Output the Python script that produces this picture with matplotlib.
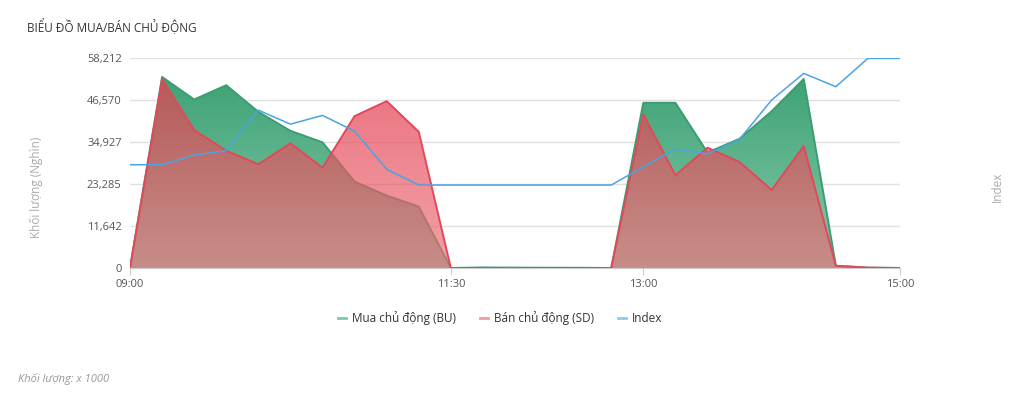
import matplotlib as mpl
import matplotlib.pyplot as plt
import matplotlib.ticker as ticker
import numpy as np
from matplotlib.colors import to_rgb

plt.rcParams['font.family'] = ['Open Sans', 'DejaVu Sans']

# 15-minute grid, 09:00 .. 15:00 (minutes since midnight)
TIMES = np.arange(9 * 60, 15 * 60 + 1, 15)

# active buy / sell volume (x1000)
BU = [0, 52960, 46710, 50670, 43290, 38030, 34830, 23940, 20070, 17030, 0,
      150, 100, 80, 60, 0,
      45800, 45800, 32000, 35830, 43460, 52410, 640, 100, 0]
SD = [0, 52400, 38230, 32510, 28750, 34550, 27810, 42100, 46240, 37760, 0,
      0, 0, 0, 0, 0,
      42550, 25690, 33350, 29370, 21630, 33790, 600, 100, 0]
INDEX = [1269.5, 1269.5, 1272.3, 1273.5, 1285.1, 1281.1, 1283.6, 1279.1, 1268.2, 1263.7, 1263.7,
         1263.7, 1263.7, 1263.7, 1263.7, 1263.7,
         1268.9, 1274.0, 1272.6, 1276.8, 1288.0, 1295.6, 1291.8, 1299.9, 1299.9]

Y_MAX = 58212
Y_TICKS = [0, 11642, 23285, 34927, 46570, 58212]
X_TICKS = [9 * 60, 11 * 60 + 30, 13 * 60, 15 * 60]
X_LABELS = ['09:00', '11:30', '13:00', '15:00']

GREEN = '#3a9e70'
RED = '#e2485a'
BLUE = '#4aa3e3'


def gradient_fill(ax, x, y, top_color, bottom_color, top_alpha, bottom_alpha, zorder):
    poly = ax.fill_between(x, 0, y, facecolor='none', edgecolor='none', zorder=zorder)
    t = np.array(to_rgb(top_color))
    b = np.array(to_rgb(bottom_color))
    frac = np.linspace(0, 1, 256)[:, None]  # 0 = bottom, 1 = top
    rgb = b + (t - b) * frac
    alpha = bottom_alpha + (top_alpha - bottom_alpha) * frac
    img = np.dstack([rgb[:, None, 0].repeat(2, 1), rgb[:, None, 1].repeat(2, 1),
                     rgb[:, None, 2].repeat(2, 1), alpha.repeat(2, 1)])
    im = ax.imshow(img, aspect='auto', origin='lower', zorder=zorder,
                   extent=[x.min(), x.max(), 0, Y_MAX], interpolation='bilinear')
    im.set_clip_path(poly.get_paths()[0], transform=ax.transData)


fig = plt.figure(figsize=(10.24, 3.96), dpi=100)
ax = fig.add_axes([130 / 1024, 1 - 268 / 396, 770 / 1024, 210 / 396])

x = TIMES.astype(float)
gradient_fill(ax, x, np.array(BU), '#389e70', '#86cbac', 1.0, 1.0, 2)
ax.plot(x, BU, color=GREEN, lw=1.4, zorder=3)
gradient_fill(ax, x, np.array(SD), '#e13c4e', '#ed6d76', 0.75, 0.65, 4)
ax.plot(x, SD, color=RED, lw=1.4, zorder=5)

ax.set_xlim(x.min(), x.max())
ax.set_ylim(0, Y_MAX)
ax.set_yticks(Y_TICKS)
ax.yaxis.set_major_formatter(ticker.FuncFormatter(lambda v, _p: f'{int(round(v)):,}'))
ax.set_xticks(X_TICKS)
ax.set_xticklabels(X_LABELS)
ax.tick_params(axis='y', length=0, pad=6, labelsize=8, labelcolor='#555555')
ax.tick_params(axis='x', length=5, width=0.8, color='#cccccc', pad=3, labelsize=8,
               labelcolor='#555555')
ax.grid(True, axis='y', color='#e0e0e0', lw=1, zorder=0)
ax.set_axisbelow(True)
for side in ['top', 'right', 'left']:
    ax.spines[side].set_visible(False)
ax.spines['bottom'].set_color('#cccccc')
ax.set_ylabel('Khối lượng (Nghìn)', fontsize=8.5, color='#aaaaaa')
ax.yaxis.set_label_coords(-87 / 770, 0.386)

ax2 = ax.twinx()
ax2.plot(x, INDEX, color=BLUE, lw=1.1, zorder=6)
ax2.set_ylim(1240, 1300)
ax2.set_yticks([])
for side in ax2.spines:
    ax2.spines[side].set_visible(False)
ax2.set_ylabel('Index', fontsize=8.5, color='#aaaaaa')
ax2.yaxis.set_label_coords(1 + 91 / 770, 0.386)

fig.text(27 / 1024, 1 - 27 / 396, 'BIỂU ĐỒ MUA/BÁN CHỦ ĐỘNG', fontsize=8.5, color='#333333',
         va='center', ha='left')

# legend
legend_items = [('Mua chủ động (BU)', '#7fc9a6'), ('Bán chủ động (SD)', '#f19ca3'),
                ('Index', '#8ccaf2')]
handles = [mpl.lines.Line2D([], [], color=c, lw=2) for _, c in legend_items]
fig.legend(handles, [t for t, _ in legend_items], loc='center',
           bbox_to_anchor=(500 / 1024, 1 - 318 / 396),
           ncol=3, frameon=False, fontsize=8.5, handlelength=0.7, handletextpad=0.5,
           columnspacing=2.0, labelcolor='#333333')

fig.text(18 / 1024, 1 - 379 / 396, 'Khối lượng: x 1000', fontsize=8, color='#999999',
         style='italic', va='center', ha='left')

fig.savefig('out.png', dpi=100)
